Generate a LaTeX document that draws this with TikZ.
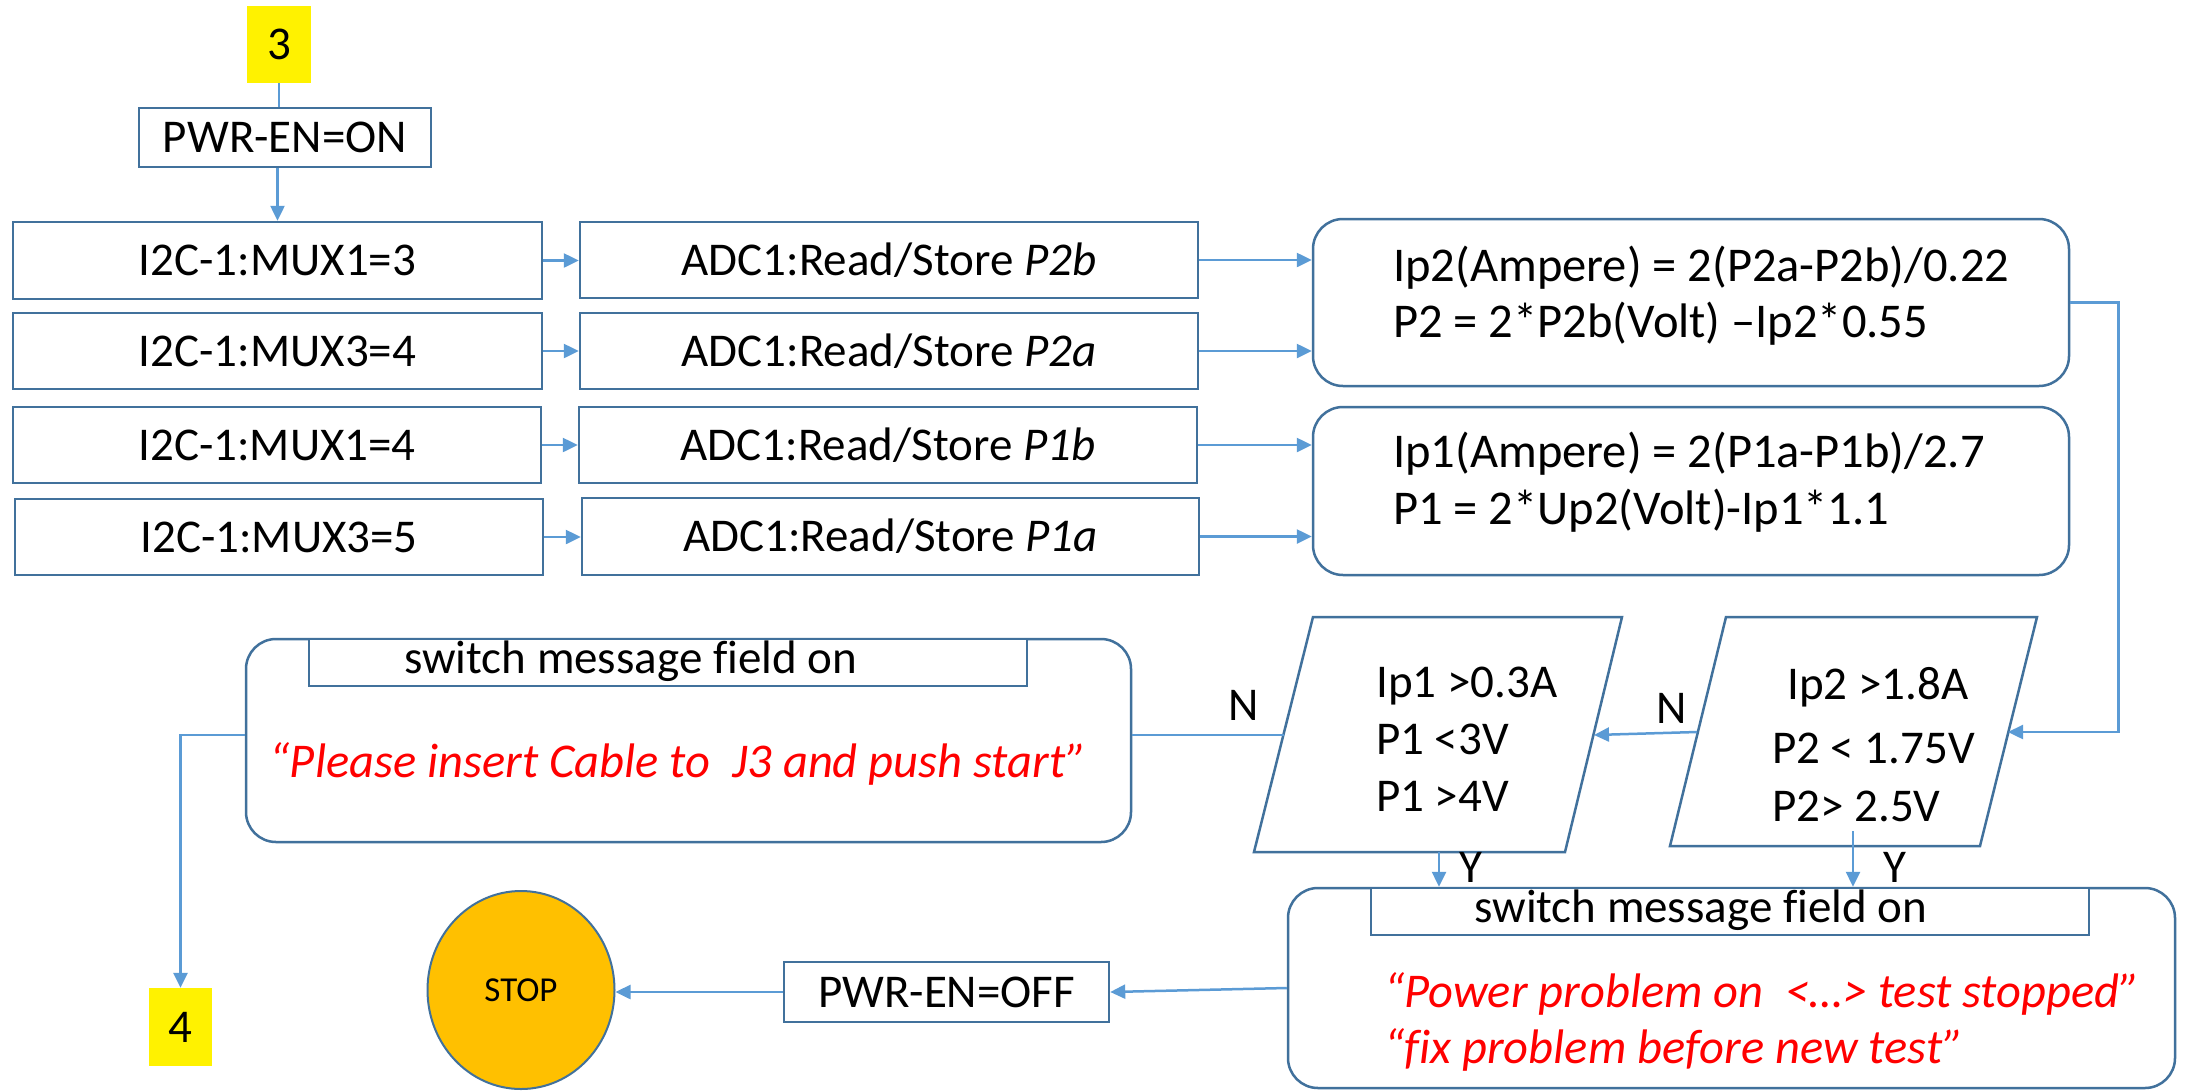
\documentclass[tikz,border=0pt]{standalone}
\usepackage{fontspec}
\setmainfont{Carlito}[Ligatures=NoCommon]
\usetikzlibrary{arrows.meta,shapes.geometric}
\definecolor{edgeblue}{HTML}{41719C}
\definecolor{linkblue}{HTML}{5B9BD5}
\definecolor{stopfill}{HTML}{FFC000}
\definecolor{msgred}{HTML}{FF0000}
\newcommand{\bigfont}{\fontsize{47}{56}\selectfont}
\newcommand{\eqfont}{\fontsize{48.5}{56}\selectfont}

\tikzset{
  box/.style={draw=edgeblue, line width=2.5pt, fill=white, inner sep=0pt,
    font=\bigfont, text height=30pt, text depth=0pt},
  roundbox/.style={draw=edgeblue, line width=2.5pt, fill=white,
    rounded corners=30pt, inner sep=0pt},
  tag/.style={fill=yellow, inner sep=0pt, font=\bigfont,
    text height=30pt, text depth=0pt},
  txt/.style={inner sep=0pt, font=\bigfont, align=left},
  eqtxt/.style={inner sep=0pt, font=\eqfont, align=left},
  redtxt/.style={inner sep=0pt, font=\eqfont\itshape, text=msgred, align=left},
  decision/.style={draw=edgeblue, line width=2.5pt, fill=white},
  link/.style={draw=linkblue, line width=2.5pt},
  arrow/.style={link, -{Triangle[length=15pt,width=14pt]}}
}

\begin{document}
\begin{tikzpicture}[x=1pt,y=-1pt]
\path[fill=white, use as bounding box] (0,0) rectangle (2185,1090);

% start and power on
\node[tag, minimum width=64, minimum height=77] (n3) at (279,44.5) {3};
\node[box, minimum width=292, minimum height=59] (pwron) at (285,137.5) {PWR-EN=ON};

% multiplexer settings
\node[box, minimum width=529, minimum height=77] (mux1) at (277.5,260.5) {I2C-1:MUX1=3};
\node[box, minimum width=529, minimum height=76] (mux2) at (277.5,351) {I2C-1:MUX3=4};
\node[box, minimum width=528, minimum height=76] (mux3) at (277,445) {I2C-1:MUX1=4};
\node[box, minimum width=528, minimum height=76] (mux4) at (279,537) {I2C-1:MUX3=5};

% ADC readings
\node[box, minimum width=618, minimum height=76] (adc1) at (889,260) {ADC1:Read/Store \textit{P2b}};
\node[box, minimum width=618, minimum height=76] (adc2) at (889,351) {ADC1:Read/Store \textit{P2a}};
\node[box, minimum width=618, minimum height=76] (adc3) at (888,445) {ADC1:Read/Store \textit{P1b}};
\node[box, minimum width=617, minimum height=77] (adc4) at (890.5,536.5) {ADC1:Read/Store \textit{P1a}};

% calculations
\node[roundbox, minimum width=756, minimum height=167] (eq1) at (1691,302.5) {};
\node[eqtxt, anchor=north west] (eq1t) at (1393,246)
  {Ip2(Ampere) = 2(P2a-P2b)/0.22\\P2 = 2*P2b(Volt) –Ip2*0.55};
\node[roundbox, minimum width=756, minimum height=168] (eq2) at (1691,491) {};
\node[eqtxt, anchor=north west] (eq2t) at (1393,432)
  {Ip1(Ampere) = 2(P1a-P1b)/2.7\\[1pt]P1 = 2*Up2(Volt)-Ip1*1.1};

% limit checks
\draw[decision] (1313,617) -- (1622,617) -- (1565,852) -- (1254,852) -- cycle;
\node[txt, anchor=north west] (d1) at (1376,667) {Ip1 >0.3A\\[1pt]P1 <3V\\[1pt]P1 >4V};
\draw[decision] (1726,617) -- (2037,617) -- (1980,846) -- (1670,846) -- cycle;
\node[txt, anchor=north west] (d2) at (1772,667) {\hspace*{15pt}Ip2 >1.8A\\[8pt]P2 < 1.75V\\[2pt]P2> 2.5V};
\coordinate (d1in) at (1594,735);
\coordinate (d1out) at (1284,735);
\coordinate (d1yes) at (1439,852);
\coordinate (d2in) at (2008,732);
\coordinate (d2no) at (1697,732);
\coordinate (d2yes) at (1853,831);

% cable message
\node[roundbox, minimum width=885, minimum height=203] (msgC) at (688.5,740.5) {};
\node[box, minimum width=718, minimum height=47] (swC) at (668,662.5) {};
\node[txt, anchor=base west, text height=30pt] (swCt) at (404,673) {switch message field on};
\node[redtxt, anchor=base] (msgCt) at (678.5,777) {“Please insert Cable to\ \ J3 and push start”};

% power problem message
\node[roundbox, minimum width=887, minimum height=200] (msgP) at (1731.5,988) {};
\node[box, minimum width=718, minimum height=47] (swP) at (1730,911.5) {};
\node[txt, anchor=base west, text height=30pt] (swPt) at (1474,922) {switch message field on};
\node[redtxt, anchor=north west] (msgPt) at (1384,972)
  {“Power problem on\ \ <…> test stopped”\\“fix problem before new test”};

% shutdown and exits
\node[box, minimum width=325, minimum height=60] (pwroff) at (946.5,992) {PWR-EN=OFF};
\node[ellipse, draw=edgeblue, line width=2pt, fill=stopfill, minimum width=187,
  minimum height=198, inner sep=0pt, font=\fontsize{35}{40}\selectfont] (stop) at (521,990) {STOP};
\node[tag, minimum width=63, minimum height=78] (n4) at (180.5,1027) {4};

% branch labels
\node[txt] (lblN1) at (1244,705) {N};
\node[txt] (lblN2) at (1672,708) {N};
\node[txt] (lblY1) at (1471,867) {Y};
\node[txt] (lblY2) at (1895,867) {Y};

% connectors
\draw[link] (n3.south) -- (n3.south |- pwron.north);
\draw[arrow] (mux1.north |- pwron.south) -- (mux1.north);
\draw[arrow] (mux1.east) -- (mux1.east -| adc1.west);
\draw[arrow] (mux2.east) -- (mux2.east -| adc2.west);
\draw[arrow] (mux3.east) -- (mux3.east -| adc3.west);
\draw[arrow] (mux4.east) -- (mux4.east -| adc4.west);
\draw[arrow] (adc1.east) -- (adc1.east -| eq1.west);
\draw[arrow] (adc2.east) -- (adc2.east -| eq1.west);
\draw[arrow] (adc3.east) -- (adc3.east -| eq2.west);
\draw[arrow] (adc4.east) -- (adc4.east -| eq2.west);
\draw[arrow] (eq1.east) -- ++(48,0) |- (d2in);
\draw[arrow] (d2no) -- (d1in);
\draw[link] (d1out) -- (d1out -| msgC.east);
\draw[arrow] (msgC.west |- d1out) -| (n4.north);
\draw[arrow] (d1yes) -- (d1yes |- msgP.north);
\draw[arrow] (d2yes) -- (d2yes |- msgP.north);
\draw[arrow] (msgP.west) -- (pwroff.east);
\draw[arrow] (pwroff.west) -- (pwroff.west -| stop.east);
\end{tikzpicture}
\end{document}
